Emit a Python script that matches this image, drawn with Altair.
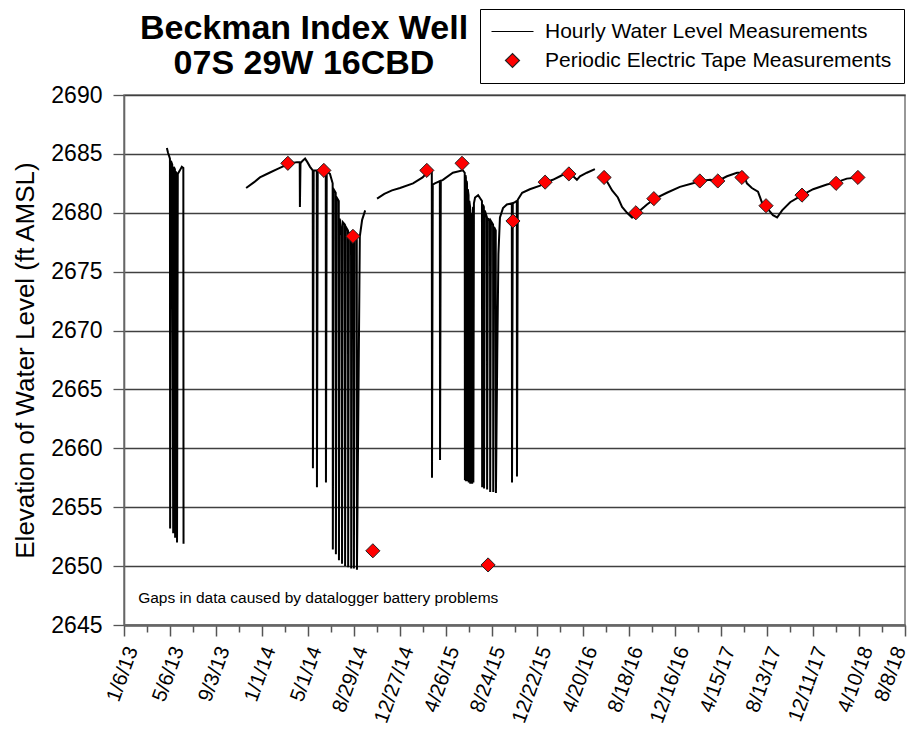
import altair as alt
import pandas as pd

# ---------------------------------------------------------------
# Data (x = days since 1/6/13, y = ft AMSL)
# ---------------------------------------------------------------
BASE_MS = 1357430400000  # 2013-01-06 00:00 UTC

# Hourly transducer record, split where the datalogger stopped
seg1_day = [112, 115, 118, 120, 120.5, 122.5, 126, 128.5, 130, 133, 133.5, 135.5,
            138, 138.5, 140.5, 146, 151, 155, 155.5]
seg1_lvl = [2685.5, 2685.1, 2684.8, 2684.6, 2653.2, 2684.4, 2684.1, 2652.8, 2683.9,
            2683.7, 2652.4, 2683.5, 2683.3, 2652.0, 2683.3, 2683.6, 2683.9, 2683.8,
            2651.9]

seg2_day = [319, 340, 355, 380, 400, 420, 434, 452, 459, 459.5, 461, 466, 473, 479,
            486, 493, 493.5, 495.5, 503.5, 504, 506, 515, 522, 527, 527.5, 529.5, 538,
            545, 545.5, 547.5, 553, 553.5, 555.5, 561, 561.5, 563.5, 569, 569.5, 571.5,
            577, 577.5, 579.5, 585, 585.5, 587.5, 593, 593.5, 595.5, 600, 600.5, 602.5,
            608, 608.5, 616, 622, 630]
seg2_lvl = [2682.1, 2682.6, 2683.0, 2683.4, 2683.7, 2684.0, 2684.2, 2684.3, 2684.3,
            2680.5, 2684.2, 2684.4, 2684.6, 2684.3, 2683.9, 2683.6, 2658.3, 2683.6,
            2683.6, 2656.7, 2683.6, 2683.7, 2683.6, 2683.5, 2657.1, 2683.5, 2683.3,
            2682.5, 2651.4, 2682.0, 2681.7, 2651.0, 2681.3, 2681.0, 2650.5, 2679.5,
            2678.1, 2650.2, 2679.2, 2679.0, 2650.0, 2678.8, 2678.5, 2649.9, 2678.3,
            2678.0, 2649.8, 2678.1, 2678.0, 2649.8, 2677.9, 2677.7, 2649.7, 2678.0,
            2679.4, 2680.2]

seg3_day = [661, 680, 700, 721, 755, 780, 794, 804, 804.5, 806.5, 812, 825, 825.5,
            827.5, 833, 859, 885, 890, 890.5, 892, 893, 893.5, 895, 896, 896.5, 898,
            900, 900.5, 902, 904, 904.5, 906.5, 909, 909.5, 911, 912, 912.5, 914, 917,
            925, 935, 935.5, 937.5, 940, 940.5, 942.5, 948, 948.5, 950.5, 956, 956.5,
            958.5, 964, 964.5, 966.5, 971, 971.5, 975, 978, 982, 990, 1000, 1013,
            1013.5, 1015.5, 1021, 1026, 1026.5, 1028.5, 1040, 1060, 1087, 1102, 1120,
            1139, 1157, 1170, 1183, 1191, 1209, 1230]
seg3_lvl = [2681.2, 2681.6, 2681.9, 2682.1, 2682.5, 2683.0, 2683.5, 2683.6, 2657.5,
            2682.4, 2682.5, 2682.7, 2659.0, 2682.7, 2682.8, 2683.4, 2683.6, 2683.4,
            2657.3, 2683.2, 2683.0, 2657.2, 2682.7, 2682.5, 2657.2, 2682.0, 2681.5,
            2657.1, 2681.0, 2680.5, 2657.0, 2680.0, 2679.6, 2657.0, 2680.2, 2680.5,
            2657.1, 2680.8, 2681.3, 2681.5, 2681.0, 2656.7, 2680.7, 2680.5, 2656.6,
            2680.2, 2679.6, 2656.5, 2679.5, 2679.4, 2656.3, 2679.3, 2679.0, 2656.3,
            2678.8, 2678.5, 2656.2, 2668.0, 2676.5, 2679.6, 2680.4, 2680.7, 2680.8,
            2657.1, 2680.8, 2680.9, 2681.0, 2657.6, 2681.1, 2681.7, 2682.0, 2682.3,
            2682.6, 2682.8, 2683.1, 2683.4, 2683.2, 2682.8, 2683.1, 2683.4, 2683.7]

seg4_day = [1259, 1275, 1290, 1301, 1314, 1327, 1335, 1348, 1366, 1387, 1418, 1452,
            1486, 1504, 1531, 1551, 1575, 1601, 1617, 1627, 1640, 1656, 1666, 1680,
            1695, 1706, 1719, 1740, 1771, 1800, 1836, 1862, 1888, 1917]
seg4_lvl = [2682.8, 2681.9, 2681.3, 2680.5, 2680.0, 2679.6, 2679.7, 2680.2, 2680.7,
            2681.2, 2681.7, 2682.2, 2682.5, 2682.7, 2682.8, 2682.7, 2683.1, 2683.4,
            2683.4, 2682.5, 2682.1, 2681.8, 2680.9, 2680.4, 2679.8, 2679.6, 2680.2,
            2680.9, 2681.5, 2682.0, 2682.4, 2682.6, 2682.9, 2683.0]

# Periodic electric tape measurements
tape_day = [428, 522, 598, 650, 791, 883, 951, 1016, 1100, 1162, 1254, 1337, 1384,
            1504, 1551, 1614, 1677, 1771, 1860, 1917]
tape_lvl = [2684.2, 2683.6, 2678.0, 2651.3, 2683.6, 2684.2, 2650.1, 2679.3, 2682.6,
            2683.3, 2683.0, 2680.0, 2681.2, 2682.7, 2682.7, 2683.0, 2680.6, 2681.5,
            2682.5, 2683.0]

series_names = ["Hourly Water Level Measurements", "Periodic Electric Tape Measurements"]
y_ticks = [2645, 2650, 2655, 2660, 2665, 2670, 2675, 2680, 2685, 2690]
x_ticks = list(range(0, 2041, 60))   # labelled every 120 days (1/6/13 ... 8/8/18)

note_day = [37]
note_lvl = [2647.3]
note_text = ["Gaps in data caused by datalogger battery problems"]

# ---------------------------------------------------------------
segs = [(seg1_day, seg1_lvl), (seg2_day, seg2_lvl), (seg3_day, seg3_lvl), (seg4_day, seg4_lvl)]
frames = []
for i, (d, v) in enumerate(segs):
    frames.append(pd.DataFrame({"day": d, "level": v, "segment": i,
                                "order": range(len(d))}))
hourly = pd.concat(frames, ignore_index=True)

tape = pd.DataFrame({"day": tape_day, "level": tape_lvl, "series": series_names[1]})
note = pd.DataFrame({"day": note_day, "level": note_lvl, "text": note_text})

FONT = "Liberation Sans"

label_expr = ("datum.value % 120 === 0 ? utcFormat(" + str(BASE_MS)
              + " + datum.value * 86400000, '%-m/%-d/%y') : ''")

x_enc = alt.X(
    "day:Q",
    scale=alt.Scale(domain=[0, 2040], nice=False, zero=False),
    axis=alt.Axis(
        values=x_ticks, title=None, grid=False,
        labelExpr=label_expr, labelAngle=290, labelAlign="right", labelBaseline="middle",
        labelFont=FONT, labelFontSize=20.5, labelColor="black", labelPadding=11,
        labelOffset={"condition": {"test": "datum.value >= 2040", "value": -5}, "value": 8},
        labelOverlap=False, labelBound=False, labelFlush=False,
        tickSize={"condition": {"test": "datum.value % 120 === 0", "value": 11}, "value": 7},
        tickColor="#555", tickWidth=1.5,
        domainColor="#666", domainWidth=2.5,
    ),
)
y_enc = alt.Y(
    "level:Q",
    scale=alt.Scale(domain=[2645, 2690], nice=False, zero=False),
    axis=alt.Axis(
        values=y_ticks, format="d", title="Elevation of Water Level (ft AMSL)",
        titleFont=FONT, titleFontSize=26, titleFontWeight="normal", titleColor="black",
        titlePadding=12,
        labelFont=FONT, labelFontSize=23, labelColor="black", labelPadding=11,
        tickSize=11, tickColor="#555", tickWidth=1.3,
        grid=True, gridColor="#404040", gridWidth=1.5,
        domainColor="#666", domainWidth=1.6,
    ),
)

legend = alt.Legend(
    title=None, orient="none", legendX=356, legendY=-86,
    labelFont=FONT, labelFontSize=21, labelColor="black", labelLimit=600,
    symbolSize=196, symbolStrokeWidth=1.2,
    padding=12, rowPadding=7, symbolOffset=10, labelOffset=22,
    strokeColor="black", fillColor="white",
)

line = alt.Chart(hourly).mark_line(color="black", strokeWidth=2).encode(
    x=x_enc, y=y_enc, detail="segment:N", order="order:Q"
)

points = alt.Chart(tape).mark_point(filled=True, fill="#ff0000", size=200,
                                    strokeWidth=1, opacity=1).encode(
    x=x_enc, y=y_enc,
    stroke=alt.Stroke("series:N", scale=alt.Scale(domain=series_names, range=["black", "#222222"]),
                      legend=legend),
    shape=alt.Shape("series:N", scale=alt.Scale(domain=series_names, range=["M-3,0L3,0", "diamond"]),
                    legend=legend),
)

text = alt.Chart(note).mark_text(align="left", baseline="middle", font=FONT,
                                 fontSize=15.5, color="black").encode(
    x=x_enc, y=y_enc, text="text:N"
)

chart = alt.layer(line, points, text).properties(
    width=781, height=530,
    padding={"left": 116, "top": 87, "right": 6, "bottom": 104},
    autosize=alt.AutoSizeParams(type="none"),
    title=alt.TitleParams(
        text=["Beckman Index Well", "07S 29W 16CBD"],
        anchor="start", frame="group", align="center", dx=180, dy=109,
        font=FONT, fontSize=34, fontWeight="bold", color="black",
        baseline="alphabetic", offset=10, lineHeight=35,
    ),
).configure_view(stroke="#777", strokeWidth=1.5)

chart.save("out.html", embed_options={"renderer": "svg", "actions": False})
